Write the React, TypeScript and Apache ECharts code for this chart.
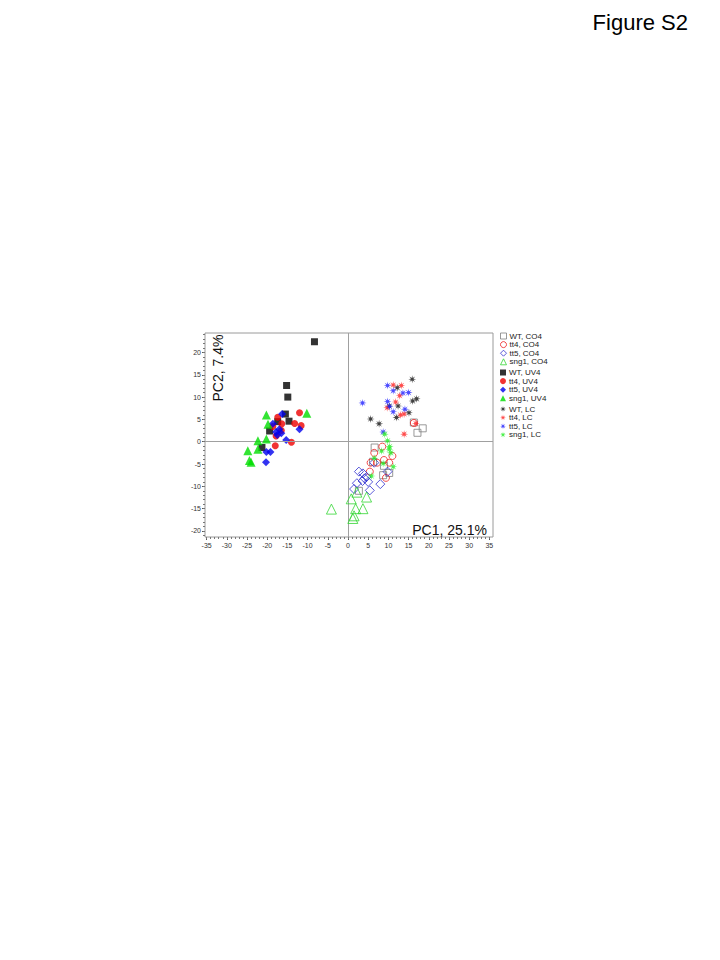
import React, { useEffect, useRef } from "react";
import * as echarts from "echarts";

const xTicks = [-35, -30, -25, -20, -15, -10, -5, 0, 5, 10, 15, 20, 25, 30, 35];
const yTicks = [-20, -15, -10, -5, 0, 5, 10, 15, 20];

const seriesNames = [
  "WT, CO4", "tt4, CO4", "tt5, CO4", "sng1, CO4",
  "WT, UV4", "tt4, UV4", "tt5, UV4", "sng1, UV4",
  "WT, LC", "tt4, LC", "tt5, LC", "sng1, LC",
];

const wtCO4 = [[16.3, 4.3], [18.5, 3.0], [17.2, 2.0], [6.6, -1.3], [6.2, -4.5], [8.7, -7.5], [10.2, -7.0], [2.7, -11.0], [8.9, -5.4]];
const tt4CO4 = [[16.3, 4.2], [8.5, -1.1], [6.5, -2.5], [5.6, -4.7], [8.9, -4.1], [11.0, -3.2], [7.2, -4.7], [5.4, -6.7], [9.4, -8.1], [10.2, -4.7]];
const tt5CO4 = [[2.7, -6.7], [3.7, -7.1], [4.1, -8.2], [2.2, -9.3], [3.6, -8.8], [5.0, -9.0], [5.4, -10.9], [8.0, -9.5], [9.8, -6.7], [6.5, -4.7], [4.6, -7.9], [1.5, -10.6]];
const sng1CO4 = [[-4.1, -15.1], [0.8, -12.8], [4.6, -12.4], [1.9, -15.0], [3.7, -15.0], [1.5, -16.6], [1.2, -17.2], [2.2, -11.3]];

const wtUV4 = [[-8.3, 22.4], [-15.2, 12.6], [-14.9, 10.0], [-15.5, 6.2], [-14.6, 4.6], [-17.4, 4.5], [-19.4, 2.4], [-21.3, -1.3]];
const tt4UV4 = [[-12.0, 6.5], [-17.4, 5.5], [-13.2, 4.1], [-11.6, 3.6], [-16.4, 4.0], [-18.6, 3.4], [-17.8, 1.3], [-14.0, -0.1], [-18.0, -0.9], [-16.5, 2.5]];
const tt5UV4 = [[-16.3, 6.2], [-18.6, 4.0], [-17.0, 2.8], [-16.5, 1.9], [-17.5, 1.5], [-12.0, 2.8], [-15.3, 0.4], [-20.2, -2.3], [-19.2, -2.3], [-20.3, -4.6], [-17.8, 2.2]];
const sng1UV4 = [[-20.2, 6.0], [-10.2, 6.4], [-19.8, 3.9], [-20.2, 0.6], [-22.3, 0.2], [-24.8, -2.0], [-22.3, -1.7], [-24.4, -4.2], [-24.0, -4.6]];

const wtLC = [[15.9, 14.0], [12.2, 12.1], [17.0, 9.6], [16.0, 9.1], [12.4, 8.0], [15.1, 6.5], [12.0, 5.4], [5.6, 5.1], [7.7, 4.0], [10.2, 8.0]];
const tt4LC = [[11.2, 12.7], [13.2, 12.6], [12.8, 10.3], [11.8, 8.9], [9.7, 7.6], [13.0, 6.0], [13.9, 6.2], [16.8, 4.1], [13.9, 1.7]];
const tt5LC = [[9.8, 12.6], [11.2, 11.4], [13.6, 10.9], [15.0, 11.0], [3.6, 8.7], [9.8, 9.0], [10.3, 7.9], [11.2, 6.7], [14.1, 7.3], [8.7, 2.2]];
const sng1LC = [[9.1, 1.7], [9.8, 0.2], [10.3, -1.1], [8.3, -2.1], [10.2, -1.7], [10.6, -2.5], [6.5, -3.7], [8.7, -4.9], [11.2, -5.6], [5.8, -7.7]];

const FONT = "'Liberation Sans', Arial, sans-serif";

function starPath(): string {
  const pts: string[] = [];
  for (let i = 0; i < 16; i++) {
    const a = (i * Math.PI) / 8 - Math.PI / 2;
    const r = i % 2 === 0 ? 10 : 3.4;
    pts.push(`${(10 + r * Math.cos(a)).toFixed(2)} ${(10 + r * Math.sin(a)).toFixed(2)}`);
  }
  return "path://M" + pts.join(" L") + " Z";
}

export default function App() {
  const ref = useRef<HTMLDivElement>(null);
  useEffect(() => {
    if (!ref.current) return;
    const chart = echarts.init(ref.current, null, { renderer: "svg" });
    const star = starPath();
    const minorX: number[] = [];
    for (let v = -35; v <= 35; v++) minorX.push(v);
    const minorY: number[] = [];
    for (let v = -21; v <= 24; v++) minorY.push(v);

    const open = (name: string, data: number[][], symbol: string, size: number, color: string) => ({
      name, type: "scatter", data, symbol, symbolSize: size,
      itemStyle: { color: "rgba(255,255,255,0)", borderColor: color, borderWidth: 1 },
    });
    const filled = (name: string, data: number[][], symbol: string, size: number, color: string) => ({
      name, type: "scatter", data, symbol, symbolSize: size,
      itemStyle: { color },
    });

    const series: any[] = [
      open(seriesNames[0], wtCO4, "rect", 7, "#808080"),
      open(seriesNames[1], tt4CO4, "circle", 7, "#ee2020"),
      open(seriesNames[2], tt5CO4, "diamond", 9, "#3030d0"),
      open(seriesNames[3], sng1CO4, "triangle", 10, "#33d633"),
      filled(seriesNames[4], wtUV4, "rect", 7, "#000000"),
      filled(seriesNames[5], tt4UV4, "circle", 7, "#ee0000"),
      filled(seriesNames[6], tt5UV4, "diamond", 8, "#0000ee"),
      filled(seriesNames[7], sng1UV4, "triangle", 9, "#00dd00"),
      filled(seriesNames[8], wtLC, star, 8, "#111111"),
      filled(seriesNames[9], tt4LC, star, 8, "#ff2020"),
      filled(seriesNames[10], tt5LC, star, 8, "#2020ff"),
      filled(seriesNames[11], sng1LC, star, 8, "#22ee22"),
    ];
    series[0].markLine = {
      silent: true,
      symbol: ["none", "none"],
      label: { show: false },
      lineStyle: { color: "#a0a0a0", type: "solid", width: 1 },
      data: [{ xAxis: 0 }, { yAxis: 0 }],
    };
    series.forEach((s, i) => (s.z = 2 + (i % 4)));

    const legendBase = {
      orient: "vertical",
      left: 500,
      itemWidth: 6,
      itemHeight: 6,
      itemGap: 0.6,
      padding: 0,
      itemStyle: { borderWidth: 1 },
      textStyle: { fontSize: 8, lineHeight: 8, color: "#222", fontFamily: FONT, padding: [0, 0, 0, -2] },
    };

    const axisCommon = {
      type: "value",
      axisLine: { show: false, onZero: false },
      splitLine: { show: false },
    };

    const option: any = {
      animation: false,
      textStyle: { fontFamily: FONT },
      grid: {
        left: 205, top: 333, width: 288, height: 204,
        show: true, borderColor: "#9a9a9a", borderWidth: 1,
        containLabel: false, outerBoundsMode: "none",
      },
      legend: [
        { ...legendBase, top: 332, data: seriesNames.slice(0, 4) },
        { ...legendBase, top: 368.5, data: seriesNames.slice(4, 8) },
        { ...legendBase, top: 405, data: seriesNames.slice(8, 12) },
      ],
      xAxis: [
        {
          ...axisCommon, min: -35.4, max: 35.9, position: "bottom",
          axisTick: { show: true, length: 3, customValues: xTicks, lineStyle: { color: "#555" } },
          axisLabel: { customValues: xTicks, fontSize: 7, color: "#333", margin: 5, fontFamily: FONT },
        },
        {
          ...axisCommon, min: -35.4, max: 35.9, position: "bottom",
          axisTick: { show: true, length: 2, customValues: minorX, lineStyle: { color: "#777" } },
          axisLabel: { show: false },
        },
      ],
      yAxis: [
        {
          ...axisCommon, min: -21.35, max: 24.36, position: "left",
          axisTick: { show: true, length: 3, customValues: yTicks, lineStyle: { color: "#555" } },
          axisLabel: { customValues: yTicks, fontSize: 7, color: "#333", margin: 4, fontFamily: FONT },
        },
        {
          ...axisCommon, min: -21.35, max: 24.36, position: "left",
          axisTick: { show: true, length: 2, customValues: minorY, lineStyle: { color: "#777" } },
          axisLabel: { show: false },
        },
      ],
      series,
      graphic: [
        {
          type: "text", x: 688, y: 22,
          style: { text: "Figure S2", fontSize: 22, fill: "#000", fontFamily: FONT, align: "right", verticalAlign: "middle" },
        },
        {
          type: "text", x: 217.5, y: 368, rotation: Math.PI / 2,
          style: { text: "PC2, 7.4%", fontSize: 14, fill: "#111", fontFamily: FONT, align: "center", verticalAlign: "middle" },
        },
        {
          type: "text", x: 487, y: 530,
          style: { text: "PC1, 25.1%", fontSize: 14, fill: "#111", fontFamily: FONT, align: "right", verticalAlign: "middle" },
        },
      ],
    };
    chart.setOption(option);
    return () => chart.dispose();
  }, []);
  return (
    <div
      ref={ref}
      style={{ position: "absolute", left: 0, top: 0, width: 720, height: 960, background: "#fff" }}
    />
  );
}
